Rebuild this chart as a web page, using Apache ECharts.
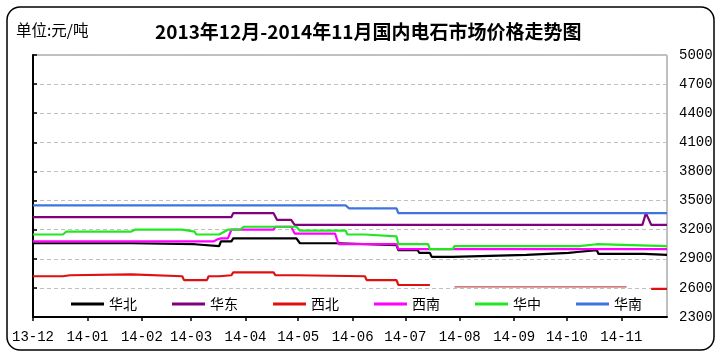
<!DOCTYPE html>
<html><head><meta charset="utf-8">
<script src="https://cdn.jsdelivr.net/npm/echarts@6/dist/echarts.min.js"></script>
<style>html,body{margin:0;padding:0;background:#fff}#c{width:721px;height:357px}</style>
</head><body><div id="c"></div>
<script>
const titleText = '2013年12月-2014年11月国内电石市场价格走势图';
const unitText = '单位:元/吨';
const seriesNames = ['华北', '华东', '西北', '西南', '华中', '华南'];
const monthTicks = ['2013-12-01','2014-01-01','2014-02-01','2014-03-01','2014-04-01','2014-05-01',
  '2014-06-01','2014-07-01','2014-08-01','2014-09-01','2014-10-01','2014-11-01'];
const xRange = ['2013-12-01', '2014-11-27'];
const yMin = 2300, yMax = 5000, yStep = 300;

const huabei = [['2013-12-01',3060],['2014-01-26',3060],['2014-01-27',3050],['2014-03-03',3050],['2014-03-04',3030],
  ['2014-03-17',3030],['2014-03-18',3080],['2014-03-24',3080],['2014-03-25',3110],['2014-04-30',3110],['2014-05-02',3060],
  ['2014-05-24',3060],['2014-05-25',3040],['2014-06-26',3040],['2014-06-27',2990],['2014-07-08',2990],['2014-07-09',2960],
  ['2014-07-15',2960],['2014-07-16',2920],['2014-07-28',2920],['2014-07-29',2940],['2014-09-08',2940],['2014-09-09',2960],
  ['2014-10-02',2960],['2014-10-03',2970],['2014-10-07',2970],['2014-10-08',2990],['2014-10-18',2990],['2014-10-19',2950],
  ['2014-11-14',2950],['2014-11-15',2940],['2014-11-27',2940]];
const huadong = [['2013-12-01',3330],['2014-03-24',3330],['2014-03-25',3370],['2014-04-17',3370],['2014-04-19',3300],
  ['2014-04-27',3300],['2014-04-29',3250],['2014-11-13',3250],['2014-11-15',3370],['2014-11-16',3370],['2014-11-18',3250],
  ['2014-11-27',3250]];
const xibei = [['2013-12-01',2720],['2013-12-18',2720],['2013-12-19',2730],['2013-12-22',2730],['2013-12-23',2740],
  ['2014-01-26',2740],['2014-01-27',2720],['2014-02-24',2720],['2014-02-25',2680],['2014-03-10',2680],['2014-03-11',2720],
  ['2014-03-17',2720],['2014-03-18',2730],['2014-03-24',2730],['2014-03-25',2760],['2014-04-17',2760],['2014-04-18',2730],
  ['2014-04-30',2730],['2014-05-01',2720],['2014-06-08',2720],['2014-06-09',2680],['2014-06-26',2680],['2014-06-27',2630],
  ['2014-07-15',2630],['2014-07-22',null],['2014-11-18',2590],['2014-11-27',2590]];
const xibeiThin = [['2014-07-29',2610],['2014-11-04',2610]];
const xinan = [['2013-12-01',3080],['2014-03-14',3080],['2014-03-16',3100],['2014-03-18',3110],['2014-03-22',3110],
  ['2014-03-24',3200],['2014-04-17',3200],['2014-04-18',3230],['2014-04-27',3230],['2014-04-29',3160],['2014-05-22',3160],
  ['2014-05-24',3050],['2014-06-26',3050],['2014-06-27',3000],['2014-11-27',3000]];
const huazhong = [['2013-12-01',3150],['2013-12-18',3150],['2013-12-20',3180],['2014-01-26',3180],['2014-01-28',3200],
  ['2014-02-24',3200],['2014-02-25',3180],['2014-03-03',3180],['2014-03-04',3150],['2014-03-17',3150],['2014-03-22',3200],
  ['2014-03-29',3200],['2014-03-31',3230],['2014-04-30',3230],['2014-05-02',3190],['2014-05-28',3190],['2014-05-29',3150],
  ['2014-06-08',3150],['2014-06-09',3130],['2014-06-26',3130],['2014-06-27',3050],['2014-07-14',3050],['2014-07-15',3000],
  ['2014-07-28',3000],['2014-07-29',3030],['2014-10-08',3030],['2014-10-09',3050],['2014-10-18',3050],['2014-10-19',3030],
  ['2014-11-27',3030]];
const huanan = [['2013-12-01',3450],['2014-05-28',3450],['2014-05-30',3420],['2014-06-26',3420],['2014-06-27',3370],
  ['2014-11-27',3370]];

const colors = ['#000000', '#800080', '#e01010', '#ff00ff', '#22e622', '#3f74e0'];

const DAY = 86400000;
function utc(s) { const p = s.split('-').map(Number); return Date.UTC(p[0], p[1] - 1, p[2]); }
const base = utc(xRange[0]);
function dayIdx(s) { return Math.round((utc(s) - base) / DAY); }
function conv(arr) { return arr.map(d => [dayIdx(d[0]), d[1] === null ? '-' : d[1]]); }
function fmt(v) {
  const d = new Date(base + Math.round(v) * DAY);
  return String(d.getUTCFullYear()).slice(2) + '-' + String(d.getUTCMonth() + 1).padStart(2, '0');
}
const monthIdx = monthTicks.map(dayIdx);
const cnFont = '"Noto Sans CJK SC", sans-serif';
const monoFont = '"Liberation Mono", "DejaVu Sans Mono", monospace';

function lineSeries(name, data, color, width) {
  return { name: name, type: 'line', data: conv(data), symbol: 'none', showSymbol: false,
    lineStyle: { color: color, width: width }, itemStyle: { color: color }, connectNulls: false, z: 3 };
}

const chart = echarts.init(document.getElementById('c'), null, { renderer: 'canvas' });
chart.setOption({
  animation: false,
  backgroundColor: '#ffffff',
  title: [
    { text: titleText, left: 150, top: 17, textStyle: { fontFamily: cnFont, fontSize: 19, fontWeight: 'bold', color: '#000' } },
    { text: unitText, left: 11, top: 17, textStyle: { fontFamily: cnFont, fontSize: 15.5, fontWeight: 'normal', color: '#000' } }
  ],
  graphic: [
    { type: 'rect', shape: { x: 7, y: 7, width: 707, height: 343, r: 13 }, style: { fill: 'none', stroke: '#000', lineWidth: 1.5 }, z: 0 }
  ],
  legend: {
    data: seriesNames, left: 66, top: 292, icon: 'rect', itemWidth: 33, itemHeight: 3, itemGap: 35,
    textStyle: { fontFamily: cnFont, fontSize: 14, color: '#000' }
  },
  grid: { left: 33, right: 54, top: 55, bottom: 40, show: true, borderColor: '#808080', borderWidth: 1, backgroundColor: 'transparent' },
  xAxis: {
    type: 'value', min: 0, max: dayIdx(xRange[1]),
    axisLine: { lineStyle: { color: '#000', width: 2 } },
    axisTick: { show: true, length: 4, lineStyle: { color: '#000', width: 1.5 }, customValues: monthIdx },
    axisLabel: { customValues: monthIdx, formatter: fmt, fontFamily: monoFont, fontSize: 14, color: '#000', margin: 13 },
    splitLine: { show: false }
  },
  yAxis: [
    { type: 'value', position: 'right', min: yMin, max: yMax, interval: yStep,
      axisLine: { show: true, lineStyle: { color: '#808080', width: 1 } },
      axisTick: { show: false },
      axisLabel: { fontFamily: monoFont, fontSize: 14, color: '#000', margin: 12, formatter: v => String(v) },
      splitLine: { show: true, lineStyle: { color: '#c0c0c0', type: [4, 3], width: 1 } } },
    { type: 'value', position: 'left', min: yMin, max: yMax, interval: yStep,
      axisLine: { show: true, onZero: false, lineStyle: { color: '#000', width: 2 } },
      axisTick: { show: true, inside: true, length: 4, lineStyle: { color: '#000', width: 1.5 } },
      axisLabel: { show: false }, splitLine: { show: false } }
  ],
  series: [
    lineSeries(seriesNames[0], huabei, colors[0], 2.2),
    lineSeries(seriesNames[1], huadong, colors[1], 2.2),
    lineSeries(seriesNames[2], xibei, colors[2], 2.2),
    lineSeries(seriesNames[2], xibeiThin, '#b02020', 1),
    lineSeries(seriesNames[3], xinan, colors[3], 2.2),
    lineSeries(seriesNames[4], huazhong, colors[4], 2.2),
    lineSeries(seriesNames[5], huanan, colors[5], 2.2)
  ]
});
</script></body></html>
